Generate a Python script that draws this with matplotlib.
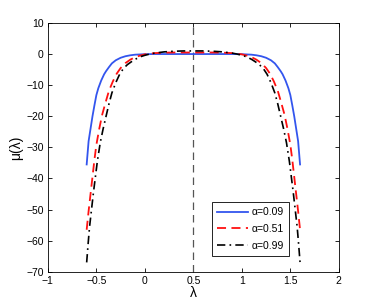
import matplotlib
matplotlib.use("Agg")
import matplotlib.pyplot as plt

plt.rcParams['font.family'] = ['Liberation Sans', 'DejaVu Sans']
plt.rcParams['mathtext.fontset'] = 'custom'

# Data
x_blue = [-0.60, -0.58, -0.56, -0.54, -0.52, -0.50, -0.48, -0.45, -0.42, -0.40, -0.37,
          -0.34, -0.30, -0.25, -0.20, -0.15, -0.10, 0.00, 0.10, 0.20, 0.30, 0.40, 0.50,
          0.60, 0.70, 0.80, 0.90, 1.00, 1.10, 1.15, 1.20, 1.25, 1.30, 1.34, 1.37, 1.40,
          1.42, 1.45, 1.48, 1.50, 1.52, 1.54, 1.56, 1.58, 1.60]
y_blue = [-35.5, -28, -24, -20, -16.5, -13.2, -11, -8.5, -6.5, -5.5, -4.2,
          -3.0, -2.0, -1.2, -0.7, -0.4, -0.2, -0.05, 0, 0, 0, 0, 0,
          0, 0, 0, 0, -0.05, -0.2, -0.4, -0.7, -1.2, -2.0, -3.0, -4.2, -5.5,
          -6.5, -8.5, -11, -13.2, -16.5, -20, -24, -28, -35.5]

x_red = [-0.60, -0.58, -0.56, -0.54, -0.52, -0.50, -0.47, -0.44, -0.40, -0.37, -0.33,
         -0.29, -0.25, -0.20, -0.15, -0.10, -0.05, 0.00, 0.10, 0.20, 0.30, 0.40, 0.50,
         0.60, 0.70, 0.80, 0.90, 1.00, 1.05, 1.10, 1.15, 1.20, 1.25, 1.29, 1.33, 1.37,
         1.40, 1.44, 1.47, 1.50, 1.52, 1.54, 1.56, 1.58, 1.60]
y_red = [-56.5, -50.5, -45, -39.5, -34, -29.2, -24, -19.5, -15, -11.8, -8.8,
         -6.3, -4.5, -2.9, -1.8, -1.0, -0.5, -0.1, 0.3, 0.45, 0.5, 0.5, 0.5,
         0.5, 0.5, 0.45, 0.3, -0.1, -0.5, -1.0, -1.8, -2.9, -4.5, -6.3, -8.8, -11.8,
         -15, -19.5, -24, -29.2, -34, -39.5, -45, -50.5, -56.5]

x_black = [-0.60, -0.585, -0.57, -0.55, -0.53, -0.51, -0.49, -0.46, -0.43, -0.40, -0.37,
           -0.34, -0.30, -0.26, -0.22, -0.18, -0.14, -0.10, -0.05, 0.00, 0.05, 0.10, 0.20,
           0.30, 0.40, 0.50, 0.60, 0.70, 0.80, 0.90, 0.95, 1.00, 1.05, 1.10, 1.14, 1.18,
           1.22, 1.26, 1.30, 1.34, 1.37, 1.40, 1.43, 1.46, 1.49, 1.51, 1.53, 1.55, 1.57,
           1.585, 1.60]
y_black = [-67, -61, -55.5, -50, -44.5, -39.5, -34.5, -28.5, -24, -20, -16,
           -12.5, -9.2, -6.5, -4.6, -3.4, -2.5, -1.7, -0.9, -0.4, 0, 0.3, 0.7,
           0.9, 1.0, 1.0, 1.0, 0.9, 0.7, 0.3, 0, -0.4, -0.9, -1.7, -2.5, -3.4,
           -4.6, -6.5, -9.2, -12.5, -16, -20, -24, -28.5, -34.5, -39.5, -44.5, -50, -55.5,
           -61, -67]

labels = [r'$\mathregular{\alpha}$=0.09', r'$\mathregular{\alpha}$=0.51', r'$\mathregular{\alpha}$=0.99']
labels = ['\u03b1=0.09', '\u03b1=0.51', '\u03b1=0.99']
vline_x = 0.5
xticks = [-1, -0.5, 0, 0.5, 1, 1.5, 2]
xticklabels = ['\u22121', '\u22120.5', '0', '0.5', '1', '1.5', '2']
yticks = [-70, -60, -50, -40, -30, -20, -10, 0, 10]
yticklabels = ['\u221270', '\u221260', '\u221250', '\u221240', '\u221230', '\u221220', '\u221210', '0', '10']

fig = plt.figure(figsize=(3.74, 3.06), dpi=100)
ax = fig.add_axes([0.128, 0.112, 0.778, 0.813])

ax.axvline(vline_x, color='#555555', linestyle=(0, (6, 4)), linewidth=0.9)
ax.plot(x_blue, y_blue, color='#3355ee', linewidth=1.3, label=labels[0])
ax.plot(x_red, y_red, color='#ff1010', linewidth=1.3, linestyle=(0, (5, 3)), label=labels[1])
ax.plot(x_black, y_black, color='black', linewidth=1.2, linestyle=(0, (5, 2.5, 1, 2.5)), label=labels[2])

ax.set_xlim(-1, 2)
ax.set_ylim(-70, 10)
ax.set_xticks(xticks)
ax.set_xticklabels(xticklabels)
ax.set_yticks(yticks)
ax.set_yticklabels(yticklabels)
ax.tick_params(direction='in', top=True, right=True, labelsize=7.5, length=3, width=0.6, pad=3)
for s in ax.spines.values():
    s.set_linewidth(0.6)

ax.set_xlabel('\u03bb', fontsize=10, labelpad=0)
ax.set_ylabel('\u03bc(\u03bb)', fontsize=10, labelpad=2)

leg = ax.legend(loc='lower right', bbox_to_anchor=(0.828, 0.063), borderaxespad=0,
                fontsize=7.5, handlelength=3.0, labelspacing=0.65, fancybox=False,
                edgecolor='black', framealpha=1, borderpad=0.5, handletextpad=0.3)
leg.get_frame().set_linewidth(0.6)

fig.savefig('out.png', dpi=100)
